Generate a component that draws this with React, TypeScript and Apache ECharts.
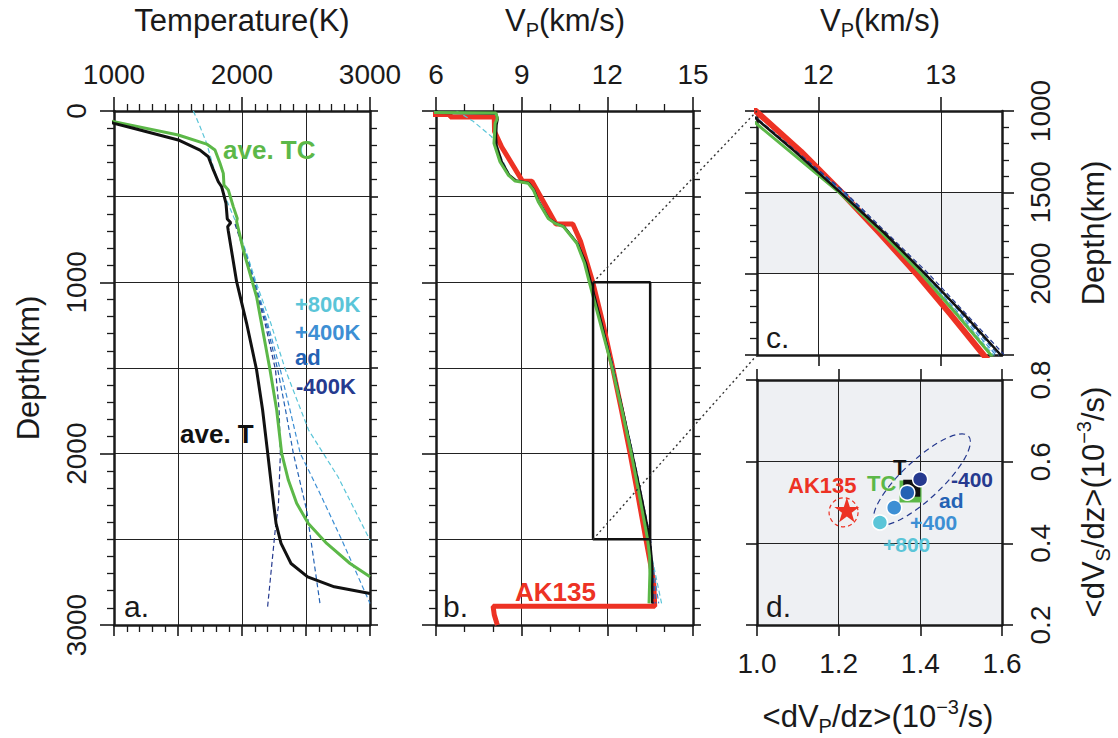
import React, { useEffect, useRef } from 'react';
import * as echarts from 'echarts';

const FONT = '"Liberation Sans", Arial, Helvetica, sans-serif';
const INK = '#1a1a1a';
const RED = '#ed3224';
const GREEN = '#5cb848';
const C800 = '#5bc5d8';
const C400 = '#3d8fd4';
const CAD = '#2462b4';
const CM400 = '#263a8f';
const GRAYBG = '#eef0f3';

// ---------- Panel a: temperature profiles, [depth(km), T(K)] ----------
const tAveT = [[60, 950], [72, 1000], [101, 1151], [169, 1502], [228, 1672], [267, 1737], [344, 1776], [413, 1815], [442, 1841], [539, 1875], [630, 1885], [652, 1912], [675, 1888], [700, 1893], [996, 1958], [1239, 2036], [1512, 2114], [1745, 2161], [1998, 2201], [2251, 2240], [2407, 2266], [2524, 2305], [2641, 2383], [2719, 2513], [2777, 2721], [2816, 3000]];
const tAveTC = [[55, 950], [62, 1000], [140, 1502], [193, 1724], [228, 1789], [305, 1828], [364, 1854], [432, 1859], [461, 1893], [558, 1932], [627, 1963], [645, 1958], [811, 2010], [1084, 2114], [1512, 2219], [1745, 2271], [1998, 2310], [2154, 2362], [2290, 2427], [2407, 2518], [2524, 2662], [2641, 2844], [2719, 3000]];
const tP800 = [[0, 1620], [91, 1672], [189, 1724], [325, 1776], [413, 1815], [520, 1880], [636, 1945], [850, 2045], [1000, 2110], [1239, 2225], [1395, 2290], [1512, 2340], [1862, 2520], [2135, 2750], [2505, 3000]];
const tP400 = [[660, 1955], [850, 2040], [1000, 2102], [1239, 2200], [1512, 2300], [1745, 2375], [1998, 2455], [2232, 2609], [2524, 2792], [2874, 3000]];
const tAd = [[660, 1950], [850, 2035], [1000, 2097], [1239, 2190], [1512, 2280], [1745, 2340], [1998, 2401], [2330, 2505], [2602, 2557], [2874, 2609]];
const tM400 = [[660, 1945], [850, 2030], [1000, 2092], [1239, 2180], [1512, 2262], [1745, 2290], [1998, 2300], [2310, 2284], [2427, 2262], [2894, 2200]];

// ---------- Panels b, c: Vp profiles, [depth(km), Vp(km/s)] ----------
const vpAK135 = [[0, 5.8], [20, 5.8], [20, 6.5], [35, 6.5], [35, 8.04], [120, 8.05], [210, 8.3], [410, 9.03], [410, 9.36], [660, 10.2], [660, 10.79], [760, 11.06], [1000, 11.49], [1250, 11.86], [1500, 12.19], [1750, 12.5], [2000, 12.8], [2250, 13.08], [2500, 13.35], [2740, 13.62], [2891, 13.66], [2891, 8.0], [2940, 8.04], [2990, 8.13], [3000, 8.15]];
const vpAveT = [[10, 5.9], [15, 8.1], [45, 8.16], [80, 8.12], [150, 8.1], [200, 8.12], [296, 8.3], [374, 8.56], [405, 8.8], [420, 9.25], [461, 9.43], [529, 9.6], [627, 9.95], [656, 10.2], [675, 10.48], [772, 10.95], [889, 11.25], [1000, 11.42], [1250, 11.81], [1500, 12.18], [1750, 12.54], [2000, 12.87], [2250, 13.19], [2500, 13.49], [2650, 13.57], [2874, 13.57]];
const vpAveTC = [[8, 5.9], [12, 8.1], [43, 8.15], [72, 8.07], [189, 8.03], [296, 8.24], [374, 8.53], [409, 8.77], [422, 9.23], [461, 9.41], [529, 9.58], [627, 9.93], [656, 10.17], [675, 10.46], [772, 10.93], [889, 11.2], [1000, 11.37], [1250, 11.77], [1500, 12.17], [1750, 12.52], [2000, 12.84], [2250, 13.13], [2500, 13.41], [2600, 13.48], [2700, 13.49], [2874, 13.46]];
const vpP800 = [[0, 6.72], [60, 7.3], [150, 7.95], [250, 8.22], [380, 8.6], [410, 8.8], [425, 9.25], [529, 9.62], [627, 9.97], [656, 10.22], [675, 10.5], [780, 11.0], [1000, 11.43], [1500, 12.2], [2000, 12.86], [2500, 13.43], [2874, 13.9]];
const vpP400 = [[700, 10.6], [780, 11.0], [1000, 11.42], [1500, 12.2], [2000, 12.86], [2500, 13.45], [2874, 13.8]];
const vpAd = [[700, 10.6], [780, 11.0], [1000, 11.42], [1500, 12.21], [2000, 12.88], [2500, 13.47], [2874, 13.7]];
const vpM400 = [[700, 10.6], [780, 11.0], [1000, 11.43], [1500, 12.22], [2000, 12.9], [2500, 13.52], [2874, 13.62]];

// zoom window shown in panel c
const ZOOM = { v0: 11.5, v1: 13.5, d0: 1000, d1: 2500 };
const BAND = [1500, 2000];

// ---------- Panel d: gradients [<dVp/dz>, <dVs/dz>] ----------
const dAK135 = [1.22, 0.482];
const dAK135Err = [1.212, 0.476];
const dP800 = [1.301, 0.451];
const dP400 = [1.336, 0.4875];
const dAd = [1.368, 0.524];
const dM400 = [1.3995, 0.557];
const dTC = [1.376, 0.527];
const dT = [1.379, 0.535];
const ELLIPSE = { cx: 1.404, cy: 0.556, a: 0.156, b: 0.048, angleDeg: 43 };

const sw = (arr: number[][]) => arr.map(([d, v]) => [v, d]);

type AxOpt = {
  grid: number; pos: string; min: number; max: number; interval?: number; inverse?: boolean;
  tickLen: number; minor?: number; minorLen?: number; split?: boolean; labels?: boolean;
  rotate?: number; fmt?: (v: number) => string; custom?: number[]; margin?: number; z?: number;
};
function mkAxis(o: AxOpt) {
  const a: any = {
    type: 'value', gridIndex: o.grid, position: o.pos, min: o.min, max: o.max,
    inverse: !!o.inverse,
    axisLine: { show: true, onZero: false, lineStyle: { color: INK, width: 2.5 } },
    axisTick: { show: true, inside: false, length: o.tickLen, lineStyle: { color: INK, width: 1.6 } },
    minorTick: { show: !!o.minor, splitNumber: o.minor || 5, length: o.minorLen || 7, lineStyle: { color: INK, width: 1.3 } },
    splitLine: { show: !!o.split, lineStyle: { color: '#222', width: 1 } },
    axisLabel: {
      show: !!o.labels, fontSize: 28, color: INK, fontFamily: FONT, margin: o.margin ?? 24, rotate: o.rotate || 0,
      formatter: o.fmt || ((v: number) => String(v)),
    },
  };
  if (o.z !== undefined) a.z = o.z;
  if (o.interval !== undefined) a.interval = o.interval;
  if (o.custom) { a.axisTick.customValues = o.custom; a.axisLabel.customValues = o.custom; }
  return a;
}

const STAR = 'path://M50,0 L61.8,35.4 L99,35.4 L69,57.3 L80.2,92.7 L50,70.8 L19.8,92.7 L31,57.3 L1,35.4 L38.2,35.4 Z';

function lineS(data: number[][], xi: number, yi: number, color: string, width: number, dashed = false, z = 3) {
  return {
    type: 'line', xAxisIndex: xi, yAxisIndex: yi, data, symbol: 'none', showSymbol: false, silent: true,
    lineStyle: { color, width, type: dashed ? [5, 3] : 'solid' }, z, clip: true,
  };
}
function dot(p: number[], color: string, size: number, symbol = 'circle', extra: any = {}) {
  return {
    type: 'scatter', xAxisIndex: 6, yAxisIndex: 6, data: [p], symbol, symbolSize: size, silent: true,
    itemStyle: { color, opacity: 1, borderColor: '#fff', borderWidth: 1.5, ...extra }, z: 5,
  };
}

export default function App() {
  const ref = useRef<HTMLDivElement>(null);
  useEffect(() => {
    const chart = echarts.init(ref.current!, null, { renderer: 'svg' });
    const series: any[] = [];
    // panel a
    series.push(lineS(sw(tP800), 0, 0, C800, 1.2, true));
    series.push(lineS(sw(tP400), 0, 0, C400, 1.2, true));
    series.push(lineS(sw(tAd), 0, 0, CAD, 1.2, true));
    series.push(lineS(sw(tM400), 0, 0, CM400, 1.2, true));
    series.push(lineS(sw(tAveTC), 0, 0, GREEN, 3, false, 4));
    series.push(lineS(sw(tAveT), 0, 0, '#111', 3, false, 4));
    // panel b
    series.push(lineS(sw(vpAK135), 2, 2, RED, 5));
    series.push(lineS(sw(vpP800), 2, 2, C800, 1.2, true));
    series.push(lineS(sw(vpP400), 2, 2, C400, 1.2, true));
    series.push(lineS(sw(vpAd), 2, 2, CAD, 1.2, true));
    series.push(lineS(sw(vpM400), 2, 2, CM400, 1.2, true));
    series.push(lineS(sw(vpAveT), 2, 2, '#111', 2.5, false, 4));
    series.push(lineS(sw(vpAveTC), 2, 2, GREEN, 3, false, 4));
    const rectIdx = series.length;
    series.push(lineS([[ZOOM.v0, ZOOM.d0], [ZOOM.v1, ZOOM.d0], [ZOOM.v1, ZOOM.d1], [ZOOM.v0, ZOOM.d1], [ZOOM.v0, ZOOM.d0]], 2, 2, '#111', 2.5, false, 5));
    // panel c
    const cIdx = series.length;
    series.push({
      type: 'line', xAxisIndex: 4, yAxisIndex: 4, data: [], z: -1, silent: true,
      markArea: { silent: true, z: -1, itemStyle: { color: GRAYBG }, data: [[{ yAxis: BAND[0] }, { yAxis: BAND[1] }]] },
    });
    series.push(lineS(sw(vpAK135), 4, 4, RED, 6));
    series.push(lineS(sw(vpP800), 4, 4, C800, 1.2, true));
    series.push(lineS(sw(vpP400), 4, 4, C400, 1.2, true));
    series.push(lineS(sw(vpAd), 4, 4, CAD, 1.2, true));
    series.push(lineS(sw(vpM400), 4, 4, CM400, 1.2, true));
    series.push(lineS(sw(vpAveTC), 4, 4, GREEN, 3, false, 4));
    series.push(lineS(sw(vpAveT), 4, 4, '#111', 2.5, false, 4));
    // panel d
    const dIdx = series.length;
    series.push({
      type: 'scatter', xAxisIndex: 6, yAxisIndex: 6, data: [dAK135Err], symbol: 'circle', symbolSize: 29, silent: true,
      itemStyle: { color: 'rgba(0,0,0,0)', opacity: 1, borderColor: RED, borderWidth: 1.2, borderType: [4, 3] }, z: 4,
    });
    series.push(dot(dAK135, RED, 25, STAR, { borderWidth: 0 }));
    series.push(dot(dP800, C800, 15));
    series.push(dot(dP400, C400, 15));
    series.push(dot(dTC, GREEN, 22, 'rect', { borderWidth: 0 }));
    series.push(dot(dT, '#111', 17, 'rect', { borderWidth: 0 }));
    series.push(dot(dAd, CAD, 15));
    series.push(dot(dM400, CM400, 15));

    const option: any = {
      animation: false,
      backgroundColor: '#fff',
      grid: [
        { left: 114, top: 111, width: 256, height: 514 },
        { left: 436, top: 111, width: 257, height: 514 },
        { left: 757, top: 111, width: 245, height: 244 },
        { left: 757, top: 380, width: 245, height: 245, show: true, backgroundColor: GRAYBG, borderWidth: 0 },
      ],
      xAxis: [
        mkAxis({ grid: 0, pos: 'top', min: 1000, max: 3000, interval: 1000, tickLen: 14, minor: 10, labels: true, margin: 23 }),
        mkAxis({ grid: 0, pos: 'bottom', min: 1000, max: 3000, interval: 500, tickLen: 11, minor: 5, split: true }),
        mkAxis({ grid: 1, pos: 'top', min: 6, max: 15, interval: 3, tickLen: 14, minor: 3, labels: true, margin: 23 }),
        mkAxis({ grid: 1, pos: 'bottom', min: 6, max: 15, interval: 3, tickLen: 11, minor: 3, split: true }),
        mkAxis({ grid: 2, pos: 'top', min: ZOOM.v0, max: ZOOM.v1, tickLen: 14, labels: true, custom: [12, 13], margin: 23, z: 1.5 }),
        mkAxis({ grid: 2, pos: 'bottom', min: ZOOM.v0, max: ZOOM.v1, tickLen: 11, split: true, custom: [12, 13], z: 1.5 }),
        mkAxis({ grid: 3, pos: 'top', min: 1.0, max: 1.6, interval: 0.2, tickLen: 11, split: true }),
        mkAxis({ grid: 3, pos: 'bottom', min: 1.0, max: 1.6, interval: 0.2, tickLen: 11, labels: true, margin: 24, fmt: (v: number) => v.toFixed(1) }),
      ],
      yAxis: [
        mkAxis({ grid: 0, pos: 'left', min: 0, max: 3000, inverse: true, interval: 1000, tickLen: 14, minor: 10, labels: true, rotate: 90, margin: 24 }),
        mkAxis({ grid: 0, pos: 'right', min: 0, max: 3000, inverse: true, interval: 500, tickLen: 8, minor: 5, split: true }),
        mkAxis({ grid: 1, pos: 'left', min: 0, max: 3000, inverse: true, interval: 1000, tickLen: 14, minor: 10 }),
        mkAxis({ grid: 1, pos: 'right', min: 0, max: 3000, inverse: true, interval: 500, tickLen: 8, minor: 5, split: true }),
        mkAxis({ grid: 2, pos: 'left', min: ZOOM.d0, max: ZOOM.d1, inverse: true, interval: 500, tickLen: 12, minor: 5, split: true, z: 1.5 }),
        mkAxis({ grid: 2, pos: 'right', min: ZOOM.d0, max: ZOOM.d1, inverse: true, interval: 500, tickLen: 12, minor: 5, labels: true, rotate: 90, margin: 24, z: 1.5, fmt: (v: number) => (v >= ZOOM.d1 ? '' : String(v)) }),
        mkAxis({ grid: 3, pos: 'left', min: 0.2, max: 0.8, interval: 0.2, tickLen: 11, split: true }),
        mkAxis({ grid: 3, pos: 'right', min: 0.2, max: 0.8, interval: 0.2, tickLen: 11, labels: true, rotate: 90, margin: 24, fmt: (v: number) => v.toFixed(1) }),
      ],
      series,
    };
    chart.setOption(option);

    const P = (idx: number, p: number[]) => chart.convertToPixel({ seriesIndex: idx }, p) as number[];
    const bTL = P(rectIdx, [ZOOM.v0, ZOOM.d0]);
    const bBL = P(rectIdx, [ZOOM.v0, ZOOM.d1]);
    const cTL = P(cIdx + 1, [ZOOM.v0, ZOOM.d0]);
    const cBL = P(cIdx + 1, [ZOOM.v0, ZOOM.d1]);
    const eC = P(dIdx, [ELLIPSE.cx, ELLIPSE.cy]);
    const eA = P(dIdx, [ELLIPSE.cx + ELLIPSE.a, ELLIPSE.cy]);
    const eB = P(dIdx, [ELLIPSE.cx, ELLIPSE.cy + ELLIPSE.b]);

    const txt = (text: string, x: number, y: number, size: number, fill: string, bold = false, align = 'left', rich?: any, rot = 0) => ({
      type: 'text', x, y, rotation: rot, z: 30, silent: true,
      style: { text, fontSize: size, fill, fontFamily: FONT, fontWeight: bold ? 'bold' : 'normal', align, verticalAlign: 'middle', rich },
    });
    const RICH = {
      m: { fontSize: 31, fontFamily: FONT, fill: INK },
      sub: { fontSize: 20, fontFamily: FONT, fill: INK, padding: [20, 0, 0, 0] },
      sup: { fontSize: 20, fontFamily: FONT, fill: INK, padding: [0, 0, 18, 0] },
    };
    const dotted = (a: number[], b: number[]) => ({
      type: 'line', z: 25, silent: true, shape: { x1: a[0], y1: a[1], x2: b[0], y2: b[1] },
      style: { stroke: '#333', lineWidth: 1.4, lineDash: [2, 3] },
    });

    const graphic: any[] = [
      txt('Temperature(K)', 242, 20, 31, INK, false, 'center'),
      txt('{m|V}{sub|P}{m|(km/s)}', 565, 20, 31, INK, false, 'center', RICH),
      txt('{m|V}{sub|P}{m|(km/s)}', 880, 20, 31, INK, false, 'center', RICH),
      txt('Depth(km)', 28, 368, 31, INK, false, 'center', undefined, Math.PI / 2),
      txt('Depth(km)', 1093, 233, 31, INK, false, 'center', undefined, Math.PI / 2),
      txt('{m|<dV}{sub|S}{m|/dz>(10}{sup|−3}{m|/s)}', 1093, 502, 31, INK, false, 'center', RICH, Math.PI / 2),
      txt('{m|<dV}{sub|P}{m|/dz>(10}{sup|−3}{m|/s)}', 878, 716, 31, INK, false, 'center', RICH),
      // panel a
      txt('ave. TC', 223, 150, 26, GREEN, true),
      txt('ave. T', 180, 434, 26, '#111', true),
      txt('+800K', 295, 304, 22, C800, true),
      txt('+400K', 295, 332, 22, C400, true),
      txt('ad', 295, 357, 22, CAD, true),
      txt('-400K', 296, 386, 22, CM400, true),
      txt('a.', 124, 606, 30, INK),
      // panel b
      txt('AK135', 515, 592, 26, RED, true),
      txt('b.', 443, 606, 30, INK),
      // panel c
      txt('c.', 766, 337, 30, INK),
      // panel d
      txt('d.', 766, 606, 30, INK),
      txt('AK135', 788, 485, 22, RED, true),
      txt('TC', 867, 483, 22, GREEN, true),
      txt('T', 893, 467, 22, '#111', true),
      txt('-400', 951, 479, 21, CM400, true),
      txt('ad', 939, 500, 21, CAD, true),
      txt('+400', 910, 522, 21, C400, true),
      txt('+800', 883, 544, 21, C800, true),
      dotted(bTL, cTL),
      dotted(bBL, cBL),
      {
        type: 'ellipse', x: eC[0], y: eC[1], rotation: (ELLIPSE.angleDeg * Math.PI) / 180, z: 3, silent: true,
        shape: { cx: 0, cy: 0, rx: Math.abs(eA[0] - eC[0]), ry: Math.abs(eB[1] - eC[1]) },
        style: { fill: 'none', stroke: CM400, lineWidth: 1.2, lineDash: [6, 4] },
      },
    ];
    chart.setOption({ graphic });
    return () => chart.dispose();
  }, []);
  return <div ref={ref} style={{ position: 'absolute', left: 0, top: 0, width: 1118, height: 738, background: '#fff' }} />;
}
